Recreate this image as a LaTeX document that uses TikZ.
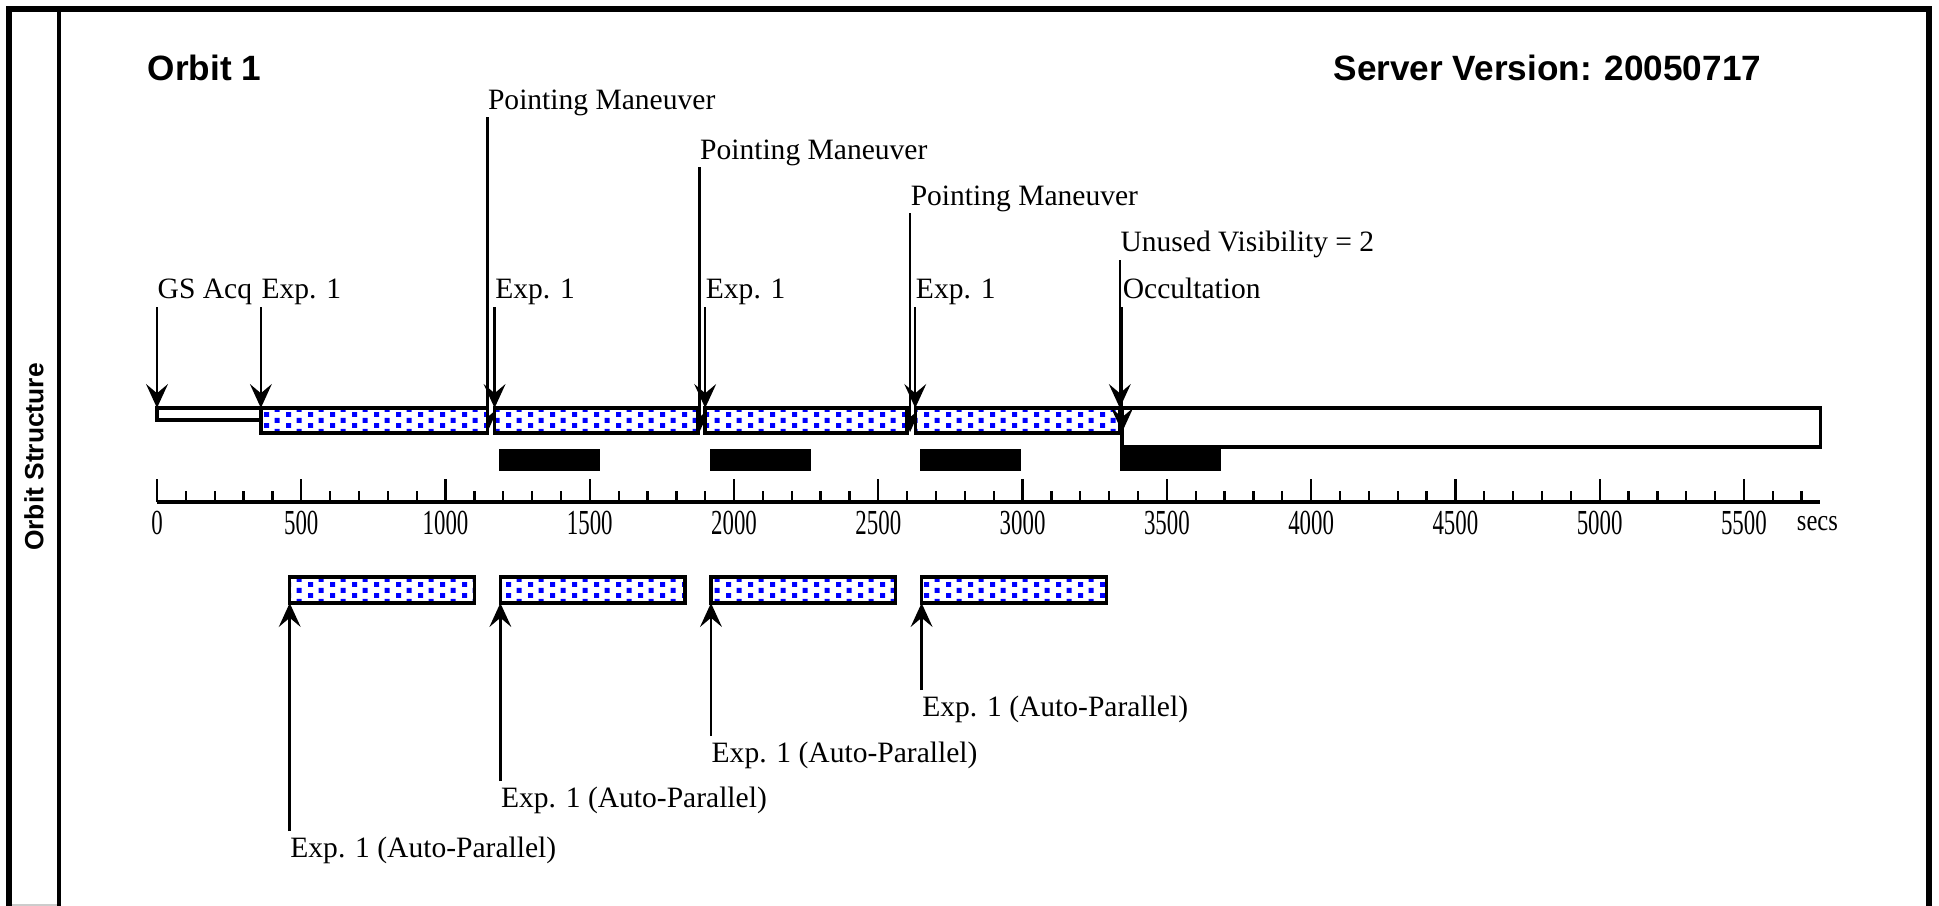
\documentclass[tikz,border=0pt]{standalone}
\usepackage{fontspec}
\setmainfont{Liberation Serif}
\setsansfont{Liberation Sans}
\usepackage{graphicx}
\usetikzlibrary{arrows.meta,patterns}
\definecolor{expBlue}{RGB}{0,0,255}

% blue square dots of the exposure bars
\pgfdeclarepatternformonly{expdots}{\pgfqpoint{0pt}{0pt}}{\pgfqpoint{6.26pt}{3.02pt}}{\pgfqpoint{6.26pt}{3.02pt}}{%
  \pgfpathrectangle{\pgfqpoint{0pt}{0pt}}{\pgfqpoint{1.5pt}{1.45pt}}%
  \pgfpathrectangle{\pgfqpoint{3.13pt}{1.51pt}}{\pgfqpoint{1.5pt}{1.45pt}}%
  \pgfusepath{fill}}

\begin{document}
\begin{tikzpicture}[
    x=0.01cm, y=-0.01cm,
    lbl/.style={font=\fontsize{8.4}{10}\selectfont, inner sep=0pt, anchor=base west},
    ttl/.style={font=\fontsize{10}{12}\selectfont\sffamily\bfseries, inner sep=0pt, anchor=west},
    tck/.style={font=\fontsize{10}{12}\selectfont, inner sep=0pt},
    ev/.style={-{Stealth[length=6.8pt,width=6.2pt,inset=2.6pt]}, line width=0.7pt},
    expbox/.style={draw, line width=1pt, preaction={fill=white}, pattern=expdots, pattern color=expBlue},
    frm/.style={line width=1.5pt}
  ]
  \useasboundingbox (0,0) rectangle (1939,906);

  % frame and side column
  \draw[frm] (9,906) -- (9,9) -- (1929,9) -- (1929,906);
  \draw[line width=1.1pt] (59,9) -- (59,906);
  \draw[gray!40, line width=0.3pt] (12,905) -- (57,905);
  \node[font=\fontsize{7.5}{9}\selectfont\sffamily\bfseries, rotate=90] (side) at (34,457) {Orbit Structure};

  \node[ttl] (orbit) at (147,68) {Orbit 1};
  \node[ttl] (server) at (1333,68) {Server Version: 20050717};

  % time line, x in secs
  \begin{scope}[shift={(157,0)}, x=0.002889cm]
    % pointing maneuvers (behind the bars)
    \foreach \t/\y/\n in {1145/117/1, 1880/167/2, 2610/213/3} {
      \coordinate (pmtop\n) at (\t,\y);
      \coordinate (pmtip\n) at (\t,432);
      \node[lbl] (pm\n) at (\t,\y-8) {Pointing Maneuver};
      \draw[ev] (pmtop\n) -- (pmtip\n);
    }

    % orbit bar
    \draw[line width=1pt, fill=white] (0,408) rectangle (360,420);
    \foreach \a/\b in {360/1145, 1170/1875, 1900/2600, 2628/3337}
      \path[expbox] (\a,408) rectangle (\b,433);
    \draw[line width=1pt] (3345,408) rectangle (5765,447);
    \foreach \a in {1185,1915,2645,3337}
      \fill (\a,449) rectangle ++(350,22);

    % axis
    \draw[line width=0.9pt] (0,502) -- (5765,502);
    \foreach \t in {0,100,...,5700}
      \draw[line width=0.65pt] (\t,502) -- (\t,491);
    \foreach \t in {0,500,...,5500} {
      \draw[line width=0.65pt] (\t,502) -- (\t,479);
      \node[tck] (n\t) at (\t,523) {\scalebox{0.65}[1]{\t}};
    }
    \node[tck] (secs) at (5755,524) {\scalebox{0.7}[0.85]{secs}};

    % events on the bar
    \foreach \t/\n/\s in {0/gs/GS Acq, 360/e1/Exp. 1, 1170/e2/Exp. 1, 1900/e3/Exp. 1, 2628/e4/Exp. 1} {
      \coordinate (\n top) at (\t,307);
      \coordinate (\n tip) at (\t,408);
      \node[lbl] (\n) at (\t,298) {\s};
      \draw[ev] (\n top) -- (\n tip);
    }
    \coordinate (uvtop) at (3337,260);
    \coordinate (uvtip) at (3337,408);
    \node[lbl] (uv) at (3337,251) {Unused Visibility = 2};
    \draw[ev] (uvtop) -- (uvtip);
    \coordinate (occtop) at (3345,307);
    \coordinate (occtip) at (3345,432);
    \node[lbl] (occ) at (3345,298) {Occultation};
    \draw[ev] (occtop) -- (occtip);

    % auto-parallel exposures
    \foreach \a/\y/\n in {460/831/1, 1190/781/2, 1920/736/3, 2650/690/4} {
      \path[expbox] (\a,577) rectangle (\a+640,603);
      \coordinate (apbot\n) at (\a,\y);
      \coordinate (aptip\n) at (\a,603);
      \draw[ev] (apbot\n) -- (aptip\n);
      \node[lbl] (ap\n) at (\a,\y+26) {Exp. 1 (Auto-Parallel)};
    }
  \end{scope}
\end{tikzpicture}
\end{document}
